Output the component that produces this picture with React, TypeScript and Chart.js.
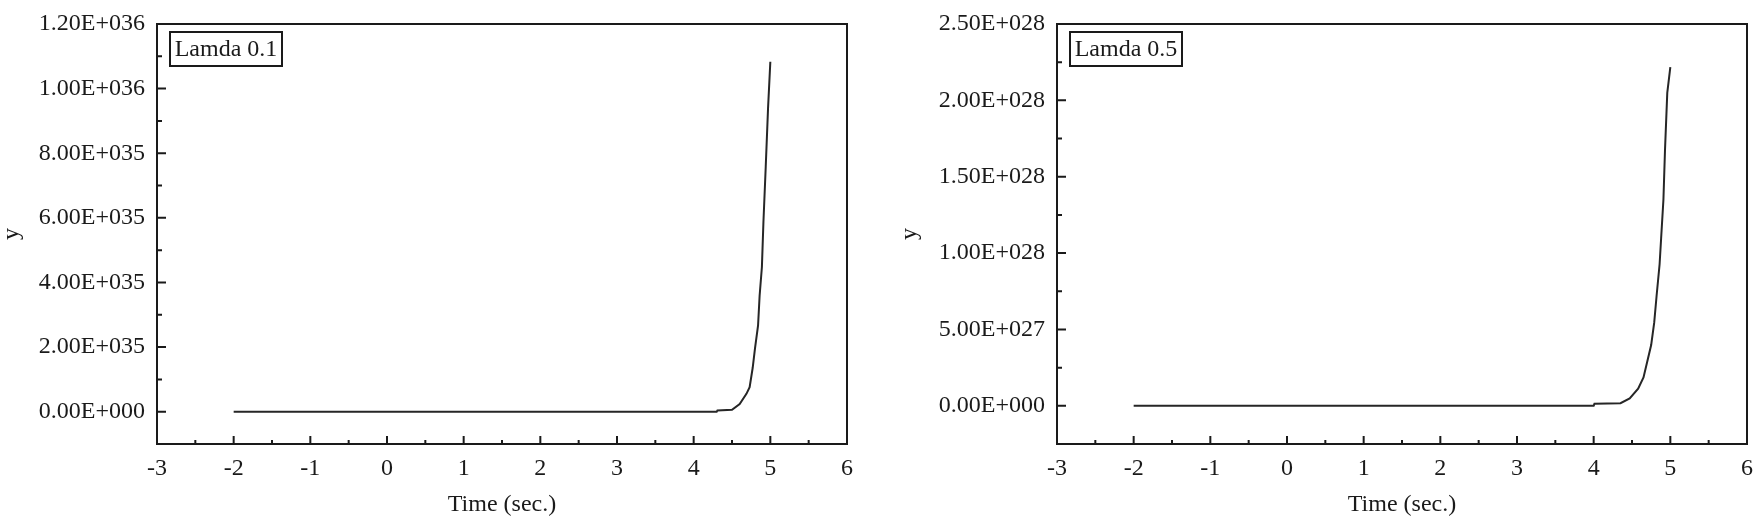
import React, { useEffect, useRef } from "react";
import { Chart, registerables } from "chart.js";

Chart.register(...registerables);

// ---- data ----
const TIME_A = [-2, 4.3, 4.31, 4.5, 4.6, 4.69, 4.73, 4.77, 4.8, 4.84, 4.86, 4.89, 4.91, 4.94, 4.97, 5.0];
const Y_A = [0, 0, 4e33, 6e33, 2.4e34, 5.6e34, 7.6e34, 1.36e35, 1.96e35, 2.67e35, 3.58e35, 4.48e35, 5.87e35, 7.58e35, 9.38e35, 1.083e36];

const TIME_B = [-2, 4.0, 4.01, 4.35, 4.47, 4.58, 4.65, 4.7, 4.75, 4.79, 4.82, 4.86, 4.88, 4.91, 4.93, 4.96, 5.0];
const Y_B = [0, 0, 1.3e26, 1.7e26, 4.9e26, 1.12e27, 1.86e27, 2.92e27, 3.98e27, 5.46e27, 7.16e27, 9.27e27, 1.097e28, 1.351e28, 1.668e28, 2.049e28, 2.218e28];

const X_TICKS = [-3, -2, -1, 0, 1, 2, 3, 4, 5, 6];
const Y_TICKS_A = [0, 2e35, 4e35, 6e35, 8e35, 1e36, 1.2e36];
const Y_TICKS_B = [0, 5e27, 1e28, 1.5e28, 2e28, 2.5e28];

const LABEL_A = "Lamda 0.1";
const LABEL_B = "Lamda 0.5";
const X_TITLE = "Time (sec.)";
const Y_TITLE = "y";

const INK = "#1a1a1a";
const LINE = "#262626";
const FAMILY = "'Liberation Serif', 'Times New Roman', serif";
const FONT_SIZE = 24;

function sci(v: number): string {
  const [m, e] = Number(v).toExponential(2).split("e");
  const sign = e[0] === "-" ? "-" : "+";
  const digits = e.replace(/^[+-]/, "").padStart(3, "0");
  return `${m}E${sign}${digits}`;
}

function framePlugin(label: string, yTicks: number[]) {
  return {
    id: "frameTicks",
    afterDraw(chart: any) {
      const { ctx, chartArea: a, scales } = chart;
      const xs = scales.x;
      const ys = scales.y;
      ctx.save();
      ctx.strokeStyle = INK;
      ctx.lineWidth = 2;
      ctx.strokeRect(a.left, a.top, a.right - a.left, a.bottom - a.top);
      ctx.beginPath();
      // y ticks (inward)
      for (let i = 0; i < yTicks.length; i++) {
        const p = ys.getPixelForValue(yTicks[i]);
        ctx.moveTo(a.left, p);
        ctx.lineTo(a.left + 9, p);
        if (i < yTicks.length - 1) {
          const pm = ys.getPixelForValue((yTicks[i] + yTicks[i + 1]) / 2);
          ctx.moveTo(a.left, pm);
          ctx.lineTo(a.left + 5, pm);
        }
      }
      // x ticks (inward)
      for (let i = 0; i < X_TICKS.length; i++) {
        const p = xs.getPixelForValue(X_TICKS[i]);
        ctx.moveTo(p, a.bottom);
        ctx.lineTo(p, a.bottom - 8);
        if (i < X_TICKS.length - 1) {
          const pm = xs.getPixelForValue((X_TICKS[i] + X_TICKS[i + 1]) / 2);
          ctx.moveTo(pm, a.bottom);
          ctx.lineTo(pm, a.bottom - 4);
        }
      }
      ctx.stroke();
      // label box
      const bx = a.left + 13;
      const by = a.top + 8;
      const bw = 112;
      const bh = 34;
      ctx.fillStyle = "#ffffff";
      ctx.fillRect(bx, by, bw, bh);
      ctx.strokeRect(bx, by, bw, bh);
      ctx.fillStyle = INK;
      ctx.font = `${FONT_SIZE}px ${FAMILY}`;
      ctx.textAlign = "center";
      ctx.textBaseline = "middle";
      ctx.fillText(label, bx + bw / 2, by + bh / 2 + 1);
      ctx.restore();
    },
  };
}

function makeConfig(
  times: number[],
  values: number[],
  yTicks: number[],
  yMin: number,
  yMax: number,
  label: string,
  yWidth: number,
  padRight: number,
  padTop: number,
  yTitlePad: number
): any {
  const font = { family: FAMILY, size: FONT_SIZE };
  return {
    type: "line",
    data: {
      datasets: [
        {
          data: times.map((t, i) => ({ x: t, y: values[i] })),
          borderColor: LINE,
          borderWidth: 2,
          pointRadius: 0,
          tension: 0,
          fill: false,
        },
      ],
    },
    options: {
      responsive: false,
      animation: false,
      layout: { padding: { top: padTop, right: padRight, left: 0, bottom: 0 } },
      plugins: { legend: { display: false }, tooltip: { enabled: false } },
      scales: {
        x: {
          type: "linear",
          min: -3,
          max: 6,
          afterBuildTicks: (s: any) => {
            s.ticks = X_TICKS.map((v) => ({ value: v }));
          },
          ticks: { font, color: INK, padding: 10, maxRotation: 0, autoSkip: false },
          grid: { display: false, drawTicks: false },
          border: { display: false },
          title: { display: true, text: X_TITLE, font, color: INK, padding: { top: 0, bottom: 3 } },
          afterFit: (s: any) => {
            s.height = 78;
          },
        },
        y: {
          type: "linear",
          min: yMin,
          max: yMax,
          afterBuildTicks: (s: any) => {
            s.ticks = yTicks.map((v) => ({ value: v }));
          },
          ticks: {
            font: { ...font, lineHeight: 1 },
            color: INK,
            padding: 12,
            autoSkip: false,
            callback: (v: any) => sci(Number(v)),
          },
          grid: { display: false, drawTicks: false },
          border: { display: false },
          title: {
            display: true,
            text: Y_TITLE,
            font: { ...font, lineHeight: 1 },
            color: INK,
            padding: { top: yTitlePad, bottom: 0 },
          },
          afterFit: (s: any) => {
            s.width = yWidth;
          },
        },
      },
    },
    plugins: [framePlugin(label, yTicks)],
  };
}

function Panel(props: { cfg: () => any; width: number; height: number; left: number }) {
  const ref = useRef<HTMLCanvasElement | null>(null);
  useEffect(() => {
    if (!ref.current) return;
    const chart = new Chart(ref.current, props.cfg());
    return () => chart.destroy();
  }, []);
  return (
    <canvas
      ref={ref}
      width={props.width}
      height={props.height}
      style={{ position: "absolute", left: props.left, top: 0, width: props.width, height: props.height }}
    />
  );
}

export default function App() {
  return (
    <div
      style={{
        position: "absolute",
        left: 0,
        top: 0,
        width: 1755,
        height: 522,
        background: "#fff",
        overflow: "hidden",
      }}
    >
      <Panel
        left={0}
        width={877}
        height={522}
        cfg={() => makeConfig(TIME_A, Y_A, Y_TICKS_A, -1e35, 1.2e36, LABEL_A, 157, 30, 13, 0)}
      />
      <Panel
        left={877}
        width={900}
        height={522}
        cfg={() => makeConfig(TIME_B, Y_B, Y_TICKS_B, -2.5e27, 2.5e28, LABEL_B, 180, 30, 12, 21)}
      />
    </div>
  );
}
